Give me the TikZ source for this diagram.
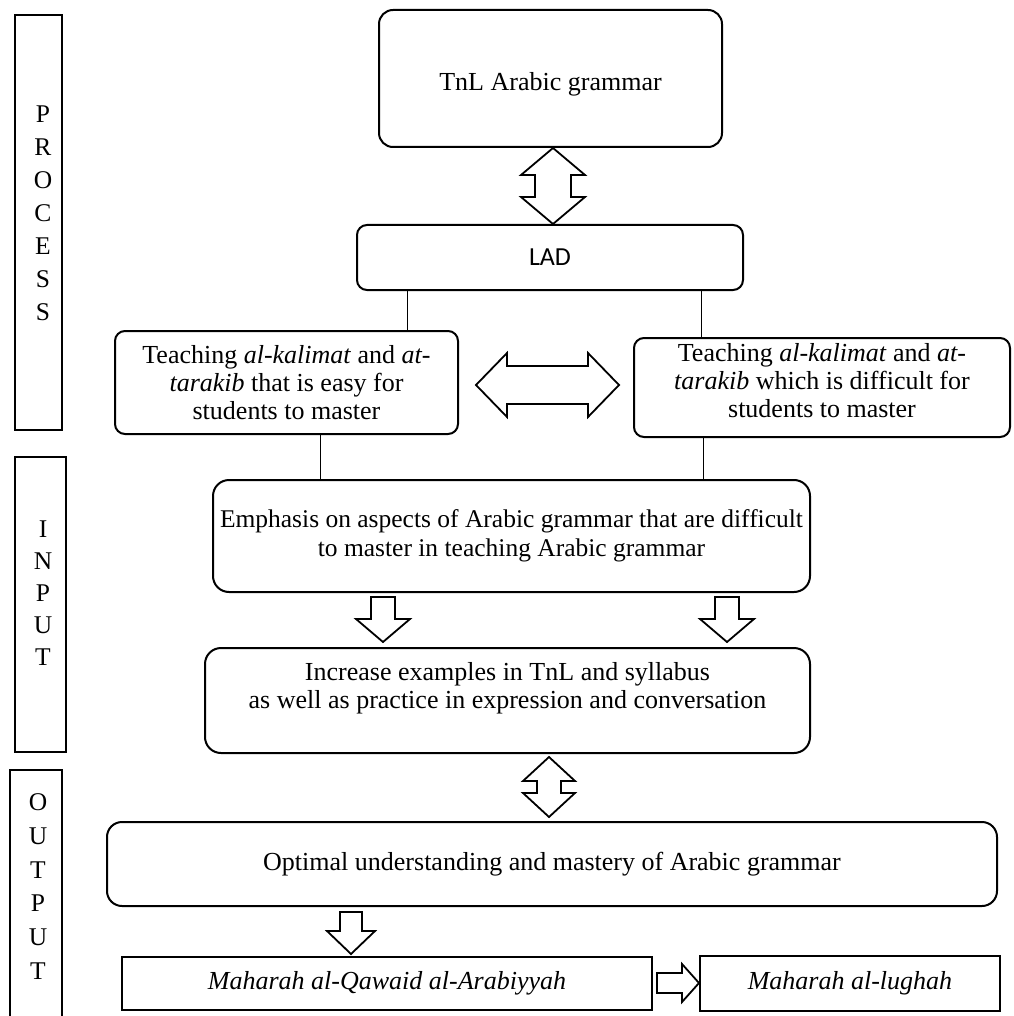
\documentclass[tikz,border=0pt]{standalone}
\usepackage{fontspec}
\setmainfont{Liberation Serif}
\newfontfamily\ladfont{Carlito}
\usetikzlibrary{calc}
\newcommand{\bodyfs}{\fontsize{26}{28}\selectfont}
% vertical double block arrow: #1 top, #2 bottom, #3 head length, #4 head half width, #5 shaft half width
\newcommand{\vdblarr}[5]{%
  \draw[barrow] let \p1=#1, \p2=#2 in
   (\x1,\y1) -- ({\x1+#4pt},{\y1-#3pt}) -- ({\x1+#5pt},{\y1-#3pt}) -- ({\x1+#5pt},{\y2+#3pt}) -- ({\x1+#4pt},{\y2+#3pt}) -- (\x1,\y2) -- ({\x1-#4pt},{\y2+#3pt}) -- ({\x1-#5pt},{\y2+#3pt}) -- ({\x1-#5pt},{\y1-#3pt}) -- ({\x1-#4pt},{\y1-#3pt}) -- cycle;}
% horizontal double block arrow: #1 left, #2 right
\newcommand{\hdblarr}[5]{%
  \draw[barrow] let \p1=#1, \p2=#2 in
   (\x1,\y1) -- ({\x1+#3pt},{\y1+#4pt}) -- ({\x1+#3pt},{\y1+#5pt}) -- ({\x2-#3pt},{\y1+#5pt}) -- ({\x2-#3pt},{\y1+#4pt}) -- (\x2,\y1) -- ({\x2-#3pt},{\y1-#4pt}) -- ({\x2-#3pt},{\y1-#5pt}) -- ({\x1+#3pt},{\y1-#5pt}) -- ({\x1+#3pt},{\y1-#4pt}) -- cycle;}
% downward single block arrow: #1 tail, #2 tip
\newcommand{\vsglarr}[5]{%
  \draw[barrow] let \p1=#1, \p2=#2 in
   ({\x1-#5pt},\y1) -- ({\x1+#5pt},\y1) -- ({\x1+#5pt},{\y2+#3pt}) -- ({\x1+#4pt},{\y2+#3pt}) -- (\x1,\y2) -- ({\x1-#4pt},{\y2+#3pt}) -- ({\x1-#5pt},{\y2+#3pt}) -- cycle;}
% rightward single block arrow: #1 tail, #2 tip
\newcommand{\hsglarr}[5]{%
  \draw[barrow] let \p1=#1, \p2=#2 in
   (\x1,{\y1+#5pt}) -- ({\x2-#3pt},{\y1+#5pt}) -- ({\x2-#3pt},{\y1+#4pt}) -- (\x2,\y1) -- ({\x2-#3pt},{\y1-#4pt}) -- ({\x2-#3pt},{\y1-#5pt}) -- (\x1,{\y1-#5pt}) -- cycle;}
\begin{document}
\begin{tikzpicture}[x=1pt,y=-1pt,
  box/.style={draw, line width=2pt, align=center, inner sep=0pt, font=\bodyfs},
  sidebox/.style={draw, line width=2pt, inner sep=0pt},
  sidetext/.style={align=center, inner sep=0pt, font=\fontsize{25.5}{33}\selectfont},
  link/.style={line width=1pt},
  barrow/.style={draw, line width=1.8pt, fill=white, line join=miter},
]
\path[fill=white, use as bounding box] (0,0) rectangle (1013,1016);

% side boxes
\node[sidebox, minimum width=47, minimum height=415] (process) at (38.5,222.5) {};
\node[sidetext] (processlbl) at (43,213) {P\\R\\O\\C\\E\\S\\S};
\node[sidebox, minimum width=51, minimum height=295] (input) at (40,604.5) {};
\node[sidetext, font=\fontsize{25.5}{32}\selectfont] (inputlbl) at (43,593.5) {I\\N\\P\\U\\T};
\node[sidebox, minimum width=52, minimum height=270] (output) at (36,905) {};
\node[sidetext, font=\fontsize{25.5}{33.8}\selectfont] (outputlbl) at (38,886.5) {O\\U\\T\\P\\U\\T};

% main boxes
\node[box, rounded corners=14pt, minimum width=343, minimum height=137, text height=30pt] (tnl) at (550.5,78.5) {TnL Arabic grammar};
\node[box, rounded corners=10pt, minimum width=386, minimum height=65, font=\ladfont\fontsize{26}{30}\selectfont] (lad) at (550,257.5) {LAD};
\node[box, rounded corners=10pt, minimum width=343, minimum height=103] (teachL) at (286.5,382.5)
  {Teaching \textit{al-kalimat} and \textit{at-}\\\textit{tarakib} that is easy for\\students to master};
\node[box, rounded corners=10pt, minimum width=376, minimum height=99, text depth=14pt] (teachR) at (822,387.5)
  {Teaching \textit{al-kalimat} and \textit{at-}\\\textit{tarakib} which is difficult for\\students to master};
\node[box, rounded corners=16pt, minimum width=597, minimum height=112, font=\fontsize{25.5}{29}\selectfont] (emph) at (511.5,536)
  {Emphasis on aspects of Arabic grammar that are difficult\\to master in teaching Arabic grammar};
\node[box, rounded corners=16pt, minimum width=605, minimum height=105, text depth=30pt] (incr) at (507.5,700.5)
  {Increase examples in TnL and syllabus\\as well as practice in expression and conversation};
\node[box, rounded corners=15pt, minimum width=890, minimum height=84] (opt) at (552,864)
  {Optimal understanding and mastery of Arabic grammar};
\node[box, minimum width=530, minimum height=53] (mahL) at (387,983.5) {\textit{Maharah al-Qawaid al-Arabiyyah}};
\node[box, minimum width=300, minimum height=55] (mahR) at (850,983.5) {\textit{Maharah al-lughah}};

% thin links
\draw[link] ($(lad.south west)+(51,0)$) -- ($(teachL.north west)+(293,0)$);
\draw[link] ($(lad.south west)+(345,0)$) -- ($(teachR.north west)+(68,0)$);
\draw[link] ($(teachL.south west)+(206,0)$) -- ($(emph.north west)+(108,0)$);
\draw[link] ($(teachR.south west)+(70,0)$) -- ($(emph.north west)+(491,0)$);

% block arrows
\coordinate (a1t) at ($(tnl.south)+(2.5,0)$);
\coordinate (a1b) at ($(lad.north)+(3,0)$);
\vdblarr{(a1t)}{(a1b)}{27}{32}{18}
\coordinate (a2l) at (476,385);
\coordinate (a2r) at (619,385);
\hdblarr{(a2l)}{(a2r)}{31}{32}{19}
\coordinate (a3t) at (383,597);
\coordinate (a3b) at (383,642);
\vsglarr{(a3t)}{(a3b)}{23}{27}{12}
\coordinate (a4t) at (727,597);
\coordinate (a4b) at (727,642);
\vsglarr{(a4t)}{(a4b)}{23}{27}{12}
\coordinate (a5t) at (549,757);
\coordinate (a5b) at (549,817);
\vdblarr{(a5t)}{(a5b)}{24}{26}{12}
\coordinate (a6t) at (351,912);
\coordinate (a6b) at (351,954);
\vsglarr{(a6t)}{(a6b)}{23}{24}{11}
\coordinate (a7l) at (657,983);
\coordinate (a7r) at (699,983);
\hsglarr{(a7l)}{(a7r)}{17}{19}{10}
\end{tikzpicture}
\end{document}
